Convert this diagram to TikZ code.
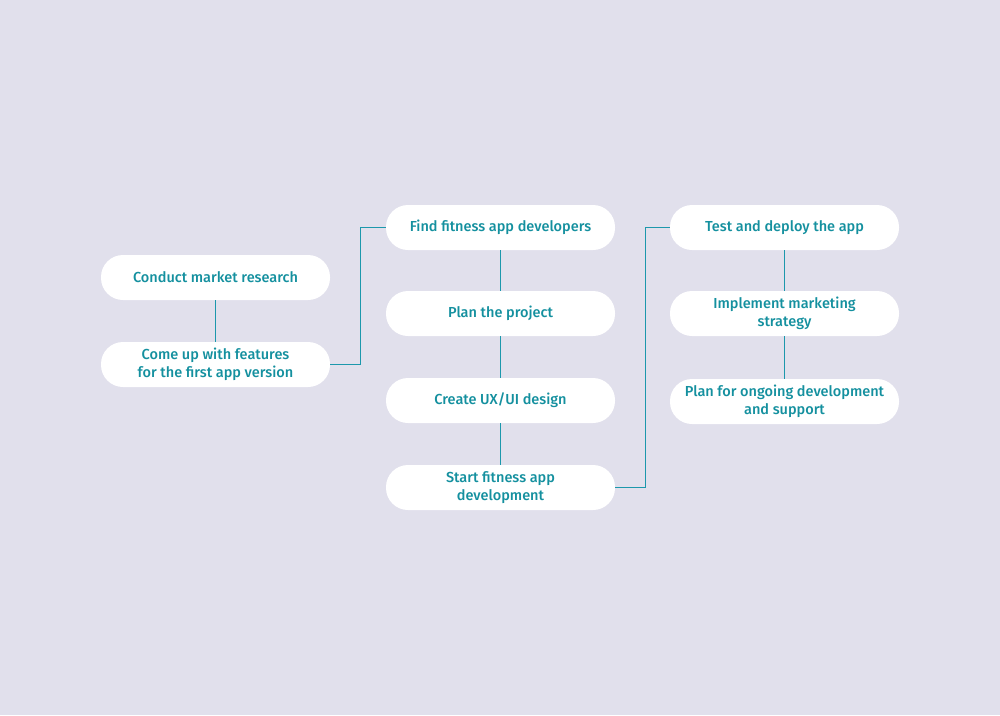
\documentclass[tikz,border=0pt]{standalone}
\usepackage{fontspec}
\setmainfont{Fira Sans}[UprightFont={* Medium}]
\definecolor{bg}{HTML}{E1E0EC}
\definecolor{teal}{HTML}{14909F}
\definecolor{linec}{HTML}{1C98AC}
\begin{document}
\begin{tikzpicture}[x=1pt,y=-1pt,
  pill/.style={fill=white, draw=none, rounded corners=22pt, minimum width=229pt, minimum height=45pt,
    inner sep=0pt, text=teal, align=center, font=\fontsize{14.5}{18}\selectfont},
  conn/.style={draw=linec, line width=1.1pt}]
\fill[bg] (0,0) rectangle (1000,715);
\useasboundingbox (0,0) rectangle (1000,715);
\node[pill] (a1) at (215.5,277.5) {Conduct market research};
\node[pill] (a2) at (215.5,364.5) {Come up with features\\for the first app version};
\node[pill] (b1) at (500.5,227.5) {Find fitness app developers};
\node[pill] (b2) at (500.5,313.5) {Plan the project};
\node[pill] (b3) at (500.5,400.5) {Create UX/UI design};
\node[pill] (b4) at (500.5,487.5) {Start fitness app\\development};
\node[pill] (c1) at (784.5,227.5) {Test and deploy the app};
\node[pill] (c2) at (784.5,313.5) {Implement marketing\\strategy};
\node[pill] (c3) at (784.5,401.5) {Plan for ongoing development\\and support};
\draw[conn] (a1) -- (a2);
\draw[conn] (b1) -- (b2);
\draw[conn] (b2) -- (b3);
\draw[conn] (b3) -- (b4);
\draw[conn] (c1) -- (c2);
\draw[conn] (c2) -- (c3);
\draw[conn] (a2.east) -- ++(30,0) |- (b1.west);
\draw[conn] (b4.east) -- ++(30,0) |- (c1.west);
\end{tikzpicture}
\end{document}
